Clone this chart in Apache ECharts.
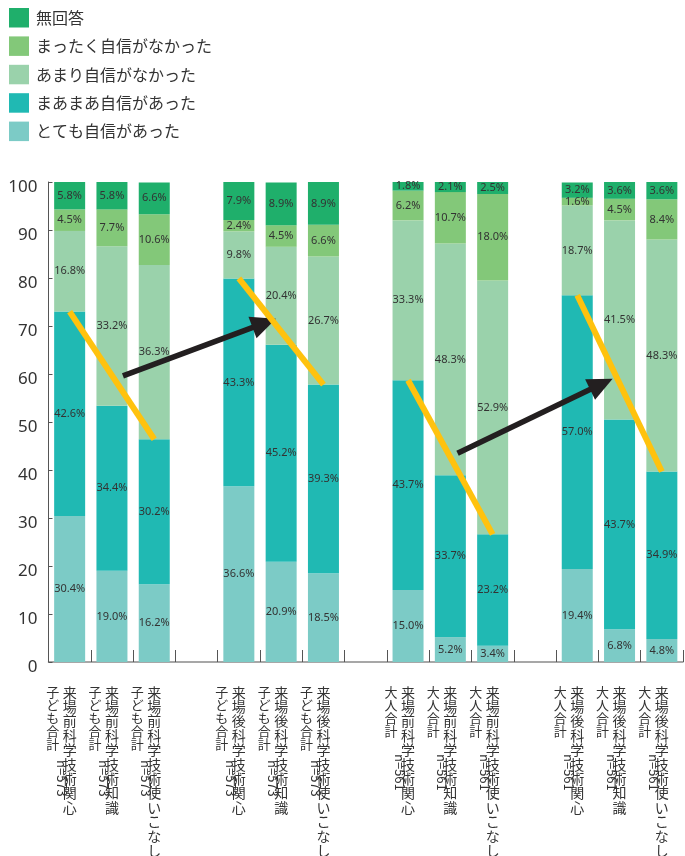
<!DOCTYPE html>
<html>
<head>
<meta charset="utf-8">
<script src="https://cdn.jsdelivr.net/npm/echarts@6/dist/echarts.min.js"></script>
<style>
  html, body { margin: 0; padding: 0; background: #ffffff; }
  #chart { width: 685px; height: 856px; }
</style>
</head>
<body>
<div id="chart"></div>
<script>
// Slots along the x axis; empty strings are spacer slots between groups
const topics = [
  '来場前科学技術関心', '来場前科学技術知識', '来場前科学技術使いこなし', '',
  '来場後科学技術関心', '来場後科学技術知識', '来場後科学技術使いこなし', '',
  '来場前科学技術関心', '来場前科学技術知識', '来場前科学技術使いこなし', '',
  '来場後科学技術関心', '来場後科学技術知識', '来場後科学技術使いこなし'
];
const groupNames = [
  '子ども合計', '子ども合計', '子ども合計', '',
  '子ども合計', '子ども合計', '子ども合計', '',
  '大人合計', '大人合計', '大人合計', '',
  '大人合計', '大人合計', '大人合計'
];
const sampleSizes = [
  'n=573', 'n=573', 'n=573', '',
  'n=573', 'n=573', 'n=573', '',
  'n=561', 'n=561', 'n=561', '',
  'n=561', 'n=561', 'n=561'
];

// Answer shares (%), stacked from the bottom
const veryConfident   = [30.4, 19.0, 16.2, null, 36.6, 20.9, 18.5, null, 15.0, 5.2, 3.4, null, 19.4, 6.8, 4.8];
const fairlyConfident = [42.6, 34.4, 30.2, null, 43.3, 45.2, 39.3, null, 43.7, 33.7, 23.2, null, 57.0, 43.7, 34.9];
const notVery         = [16.8, 33.2, 36.3, null, 9.8, 20.4, 26.7, null, 33.3, 48.3, 52.9, null, 18.7, 41.5, 48.3];
const notAtAll        = [4.5, 7.7, 10.6, null, 2.4, 4.5, 6.6, null, 6.2, 10.7, 18.0, null, 1.6, 4.5, 8.4];
const noAnswer        = [5.8, 5.8, 6.6, null, 7.9, 8.9, 8.9, null, 1.8, 2.1, 2.5, null, 3.2, 3.6, 3.6];

const seriesNames = ['とても自信があった', 'まあまあ自信があった', 'あまり自信がなかった', 'まったく自信がなかった', '無回答'];
const seriesColors = ['#7ccbc6', '#20b9b3', '#9ad2ab', '#83c879', '#1faf6b'];
const seriesValues = [veryConfident, fairlyConfident, notVery, notAtAll, noAnswer];

// First slot of each three-bar group
const groupStarts = [0, 4, 8, 12];

// Trend arrows in axis units: [slot position, percent]
const arrowTails = [[1.76, 59.6], [9.67, 43.5]];
const arrowHeads = [[5.10, 70.6], [13.07, 57.9]];

const yTicks = { min: 0, max: 100, step: 10 };

const cjkFont = '"Noto Sans CJK JP", "Noto Sans", sans-serif';
const numFont = '"Noto Sans", "Liberation Sans", sans-serif';
const textColor = '#333333';

const chart = echarts.init(document.getElementById('chart'), null, { renderer: 'canvas' });

const vertical = s => s.split('').join('\n');

const barSeries = seriesNames.map((name, i) => ({
  name: name,
  type: 'bar',
  stack: 'answers',
  xAxisIndex: 0,
  yAxisIndex: 0,
  barWidth: 31,
  data: seriesValues[i],
  itemStyle: { color: seriesColors[i] },
  label: {
    show: true,
    position: 'inside',
    color: textColor,
    fontFamily: numFont,
    fontSize: 11,
    formatter: p => (p.value == null ? '' : p.value.toFixed(1) + '%')
  },
  emphasis: { disabled: true }
}));

// Share answering "very" or "fairly" confident, at a slot
const confident = k => veryConfident[k] + fairlyConfident[k];

const trendLines = groupStarts.map(g => ({
  type: 'line',
  xAxisIndex: 3,
  yAxisIndex: 0,
  data: [[g + 0.5, confident(g)], [g + 2.5, confident(g + 2)]],
  symbol: 'none',
  lineStyle: { color: '#ffc20e', width: 6, cap: 'butt' },
  z: 5,
  silent: true
}));

const arrowSeries = {
  type: 'line',
  xAxisIndex: 3,
  yAxisIndex: 0,
  data: [],
  silent: true,
  z: 6,
  markLine: {
    silent: true,
    animation: false,
    symbol: ['none', 'triangle'],
    symbolSize: [23, 25],
    label: { show: false },
    lineStyle: { type: 'solid', color: '#231f20', width: 5.5, opacity: 1 },
    itemStyle: { color: '#231f20' },
    emphasis: { disabled: true },
    data: arrowTails.map((t, i) => [{ coord: t }, { coord: arrowHeads[i] }])
  }
};

chart.setOption({
  animation: false,
  backgroundColor: '#ffffff',
  legend: {
    orient: 'vertical',
    left: 4,
    top: 3,
    itemWidth: 20,
    itemHeight: 19.5,
    itemGap: 8.9,
    icon: 'rect',
    data: seriesNames.slice().reverse(),
    textStyle: { fontFamily: cjkFont, fontSize: 16, color: textColor, lineHeight: 19.5, padding: [0, 0, 0, 2] },
    selectedMode: false
  },
  grid: { left: 48.5, right: 2, top: 182, bottom: 194, containLabel: false, outerBoundsMode: 'none' },
  xAxis: [
    {
      type: 'category',
      data: topics,
      position: 'bottom',
      axisLine: { show: true, lineStyle: { color: '#8a8a8a', width: 1.5 } },
      axisTick: { show: true, inside: true, length: 12, interval: 0, lineStyle: { color: '#555555', width: 1 } },
      axisLabel: {
        interval: 0,
        margin: 23,
        fontFamily: cjkFont,
        fontSize: 14,
        lineHeight: 14.4,
        color: textColor,
        verticalAlign: 'top',
        formatter: vertical
      },
      splitLine: { show: false }
    },
    {
      type: 'category',
      data: groupNames,
      position: 'bottom',
      axisLine: { show: false },
      axisTick: { show: false },
      axisLabel: {
        interval: 0,
        margin: 24,
        fontFamily: cjkFont,
        fontSize: 13,
        lineHeight: 13,
        color: textColor,
        verticalAlign: 'top',
        padding: [0, 34, 0, 0],
        formatter: vertical
      },
      splitLine: { show: false }
    },
    {
      type: 'category',
      data: sampleSizes,
      position: 'bottom',
      axisLine: { show: false },
      axisTick: { show: false },
      axisLabel: {
        interval: 0,
        rotate: -90,
        margin: 92,
        fontFamily: cjkFont,
        fontSize: 13,
        color: textColor,
        verticalAlign: 'top',
        lineHeight: 16,
        formatter: v => (v === 'n=573' ? '{c|' + v + '}' : '{a|' + v + '}'),
        rich: {
          c: { fontFamily: cjkFont, fontSize: 13, color: textColor, lineHeight: 16, padding: [0, 0, 0, 6] },
          a: { fontFamily: cjkFont, fontSize: 13, color: textColor, lineHeight: 16 }
        }
      },
      splitLine: { show: false }
    },
    {
      type: 'value',
      min: 0,
      max: topics.length,
      show: false,
      position: 'bottom'
    }
  ],
  yAxis: [{
    type: 'value',
    min: yTicks.min,
    max: yTicks.max,
    interval: yTicks.step,
    axisLine: { show: true, lineStyle: { color: '#555555', width: 1 } },
    axisTick: { show: true, inside: true, length: 4, lineStyle: { color: '#555555' } },
    axisLabel: {
      margin: 11,
      fontFamily: numFont,
      fontSize: 17,
      color: textColor,
      verticalAlign: 'top',
      lineHeight: 10
    },
    splitLine: { show: false }
  }],
  series: barSeries.concat(trendLines, [arrowSeries])
});
</script>
</body>
</html>
